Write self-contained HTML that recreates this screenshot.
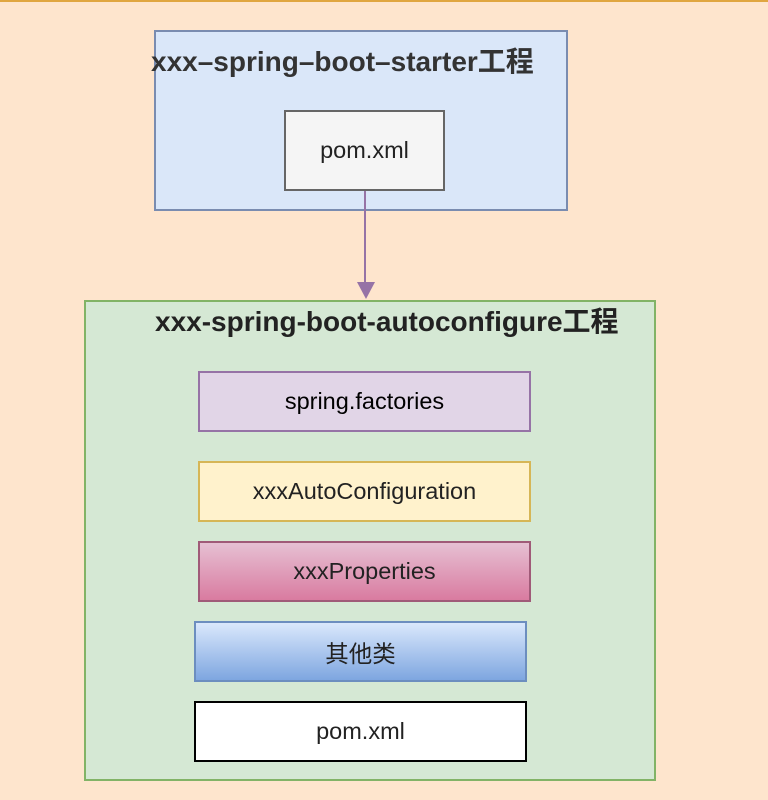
<!DOCTYPE html><html><head><meta charset="utf-8"><style>
body{margin:0;width:768px;height:800px;background:#fee5cd;position:relative;overflow:hidden;font-family:"Liberation Sans","Noto Sans CJK SC",sans-serif;color:#222}
div{position:absolute;box-sizing:border-box}
.b{display:flex;align-items:center;justify-content:center;font-size:23.5px}
</style></head><body>
<div style="left:0;top:0;width:768px;height:2px;background:#e0a640"></div>
<div style="left:154px;top:30px;width:414px;height:181px;background:#dae7f9;border:2px solid #7a8cb0"></div>
<div style="left:151px;top:46px;width:440px;font-size:28px;line-height:32px;font-weight:bold;color:#333;white-space:nowrap">xxx–spring–boot–starter工程</div>
<div class="b" style="left:284px;top:110px;width:161px;height:81px;background:#f5f5f5;border:2px solid #666">pom.xml</div>
<div style="left:364px;top:191px;width:2px;height:98px;background:#9673a6"></div>
<svg style="position:absolute;left:356px;top:282px" width="20" height="18"><polygon points="1,0 19,0 10,17" fill="#9673a6"/></svg>
<div style="left:84px;top:300px;width:572px;height:481px;background:#d5e8d4;border:2px solid #82b366"></div>
<div style="left:155px;top:306px;width:480px;font-size:28px;line-height:32px;font-weight:bold;color:#222;white-space:nowrap">xxx-spring-boot-autoconfigure工程</div>
<div class="b" style="left:198px;top:371px;width:333px;height:61px;background:#e1d5e7;border:2px solid #9673a6;color:#000">spring.factories</div>
<div class="b" style="left:198px;top:461px;width:333px;height:61px;background:#fff2cc;border:2px solid #d6b656">xxxAutoConfiguration</div>
<div class="b" style="left:198px;top:541px;width:333px;height:61px;background:linear-gradient(#e6c0d3,#d97ba0);border:2px solid #a05a78">xxxProperties</div>
<div class="b" style="left:194px;top:621px;width:333px;height:61px;background:linear-gradient(#dae8fc,#7ea6e0);border:2px solid #6c8ebf">其他类</div>
<div class="b" style="left:194px;top:701px;width:333px;height:61px;background:#fff;border:2px solid #000">pom.xml</div>
</body></html>
